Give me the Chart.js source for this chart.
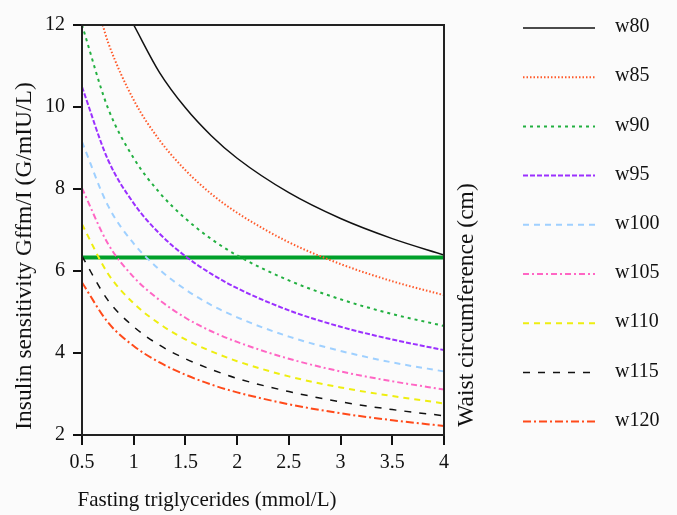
<!DOCTYPE html>
<html>
<head>
<meta charset="utf-8">
<script src="https://cdn.jsdelivr.net/npm/chart.js@4/dist/chart.umd.min.js"></script>
<style>
  html, body { margin: 0; padding: 0; background: #fbfbfb; }
  #wrap { width: 677px; height: 515px; }
</style>
</head>
<body>
<div id="wrap"><canvas id="grafico"></canvas></div>
<script>
// triglycerides (mmol/L)
const tg = [0.5, 0.75, 1, 1.25, 1.5, 1.75, 2, 2.5, 3, 3.5, 4];

// insulin sensitivity, one list per waist circumference
// (w80 and w85 leave the top of the plot, so they start where they enter it)
const w80x = [1.0, 1.25, 1.5, 1.75, 2, 2.5, 3, 3.5, 4];
const w80 = [12.0, 10.84, 9.98, 9.30, 8.75, 7.91, 7.28, 6.79, 6.39];
const w85x = [0.7, 0.75, 1, 1.25, 1.5, 1.75, 2, 2.5, 3, 3.5, 4];
const w85 = [12.0, 11.59, 10.17, 9.19, 8.46, 7.88, 7.42, 6.70, 6.17, 5.75, 5.41];
const w90 = [12.0, 9.98, 8.75, 7.91, 7.28, 6.78, 6.38, 5.77, 5.31, 4.95, 4.66];
const w95 = [10.49, 8.72, 7.65, 6.91, 6.36, 5.93, 5.58, 5.04, 4.64, 4.33, 4.07];
const w100 = [9.15, 7.60, 6.67, 6.03, 5.55, 5.17, 4.87, 4.40, 4.05, 3.77, 3.55];
const w105 = [8.02, 6.67, 5.85, 5.29, 4.86, 4.53, 4.27, 3.86, 3.55, 3.31, 3.11];
const w110 = [7.14, 5.94, 5.21, 4.71, 4.33, 4.04, 3.80, 3.43, 3.16, 2.95, 2.77];
const w115 = [6.36, 5.29, 4.64, 4.19, 3.86, 3.60, 3.38, 3.06, 2.81, 2.62, 2.47];
const w120 = [5.72, 4.75, 4.17, 3.77, 3.47, 3.23, 3.04, 2.75, 2.53, 2.36, 2.22];

// horizontal cut-off line
const cutX = [0.5, 4];
const cutY = [6.33, 6.33];

const xTicks = [0.5, 1, 1.5, 2, 2.5, 3, 3.5, 4];
const yTicks = [2, 4, 6, 8, 10, 12];

const fonte = "Liberation Serif";

function pts(xs, ys) {
  return xs.map((x, i) => ({ x: x, y: ys[i] }));
}

function serie(label, xs, ys, cor, dash, larg) {
  return {
    label: label,
    data: pts(xs, ys),
    borderColor: cor,
    borderDash: dash,
    borderWidth: larg,
    pointRadius: 0,
    fill: false,
    cubicInterpolationMode: "monotone",
  };
}

const datasets = [
  serie("w80", w80x, w80, "#111111", [], 1.5),
  serie("w85", w85x, w85, "#ff5a2a", [1.5, 2], 2),
  serie("w90", tg, w90, "#22b040", [3, 4], 2),
  serie("w95", tg, w95, "#9b30ff", [5, 2], 2),
  serie("w100", tg, w100, "#9fd0ff", [6, 5], 2),
  serie("w105", tg, w105, "#ff66c4", [6, 3, 2, 3], 2),
  serie("w110", tg, w110, "#eeee10", [6, 5], 2),
  serie("w115", tg, w115, "#111111", [7, 8], 1.5),
  serie("w120", tg, w120, "#ff4a1a", [8, 3, 2, 3], 2),
];
// green line goes last so it's drawn under the curves
datasets.push({
  label: "cut",
  data: pts(cutX, cutY),
  borderColor: "#00a02a",
  borderWidth: 4,
  pointRadius: 0,
  fill: false,
});

// legend, titles and frame
const extras = {
  id: "extras",
  afterDraw(chart) {
    const c = chart.ctx;
    const a = chart.chartArea;
    c.save();
    // frame
    c.strokeStyle = "#222";
    c.lineWidth = 2;
    c.setLineDash([]);
    c.strokeRect(a.left, a.top, a.right - a.left, a.bottom - a.top);

    c.fillStyle = "#111";
    c.textBaseline = "middle";

    // x title
    c.textAlign = "center";
    c.font = "21px '" + fonte + "'";
    c.fillText("Fasting triglycerides (mmol/L)", 207, 500);

    // y title
    c.font = "23.5px '" + fonte + "'";
    c.save();
    c.translate(25, 256);
    c.rotate(-Math.PI / 2);
    c.fillText("Insulin sensitivity Gffm/I (G/mIU/L)", 0, 0);
    c.restore();

    // right title
    c.save();
    c.translate(467, 305);
    c.rotate(-Math.PI / 2);
    c.fillText("Waist circumference (cm)", 0, 0);
    c.restore();

    // legend
    c.font = "20px '" + fonte + "'";
    c.textAlign = "left";
    let yy = 28;
    chart.data.datasets.forEach((ds) => {
      if (ds.label === "cut") return;
      c.strokeStyle = ds.borderColor;
      c.lineWidth = ds.borderWidth;
      c.setLineDash(ds.borderDash);
      c.beginPath();
      c.moveTo(523, yy);
      c.lineTo(595, yy);
      c.stroke();
      c.setLineDash([]);
      c.fillStyle = "#111";
      c.fillText(ds.label, 615, yy - 1);
      yy += 49.2;
    });
    c.restore();
  },
};

new Chart(document.getElementById("grafico"), {
  type: "line",
  data: { datasets: datasets },
  options: {
    responsive: true,
    maintainAspectRatio: false,
    animation: false,
    events: [],
    layout: { padding: { left: 0, top: 25, right: 233, bottom: 0 } },
    plugins: { legend: { display: false }, tooltip: { enabled: false } },
    scales: {
      x: {
        type: "linear",
        min: 0.5,
        max: 4,
        afterBuildTicks: (s) => {
          s.ticks = xTicks.map((v) => ({ value: v }));
        },
        afterFit: (s) => {
          s.height = 80;
        },
        border: { color: "#111", width: 2 },
        grid: { drawOnChartArea: false, drawTicks: true, tickLength: 10, color: "#111", lineWidth: 2 },
        ticks: {
          color: "#111",
          padding: 6,
          maxRotation: 0,
          font: { family: fonte, size: 20 },
          callback: (v) => String(v),
        },
      },
      y: {
        type: "linear",
        min: 2,
        max: 12,
        afterBuildTicks: (s) => {
          s.ticks = yTicks.map((v) => ({ value: v }));
        },
        afterFit: (s) => {
          s.width = 82;
        },
        border: { color: "#111", width: 2 },
        grid: { drawOnChartArea: false, drawTicks: true, tickLength: 9, color: "#111", lineWidth: 2 },
        ticks: {
          color: "#111",
          padding: 8,
          font: { family: fonte, size: 20 },
          callback: (v) => String(v),
        },
      },
    },
  },
  plugins: [extras],
});
</script>
</body>
</html>
